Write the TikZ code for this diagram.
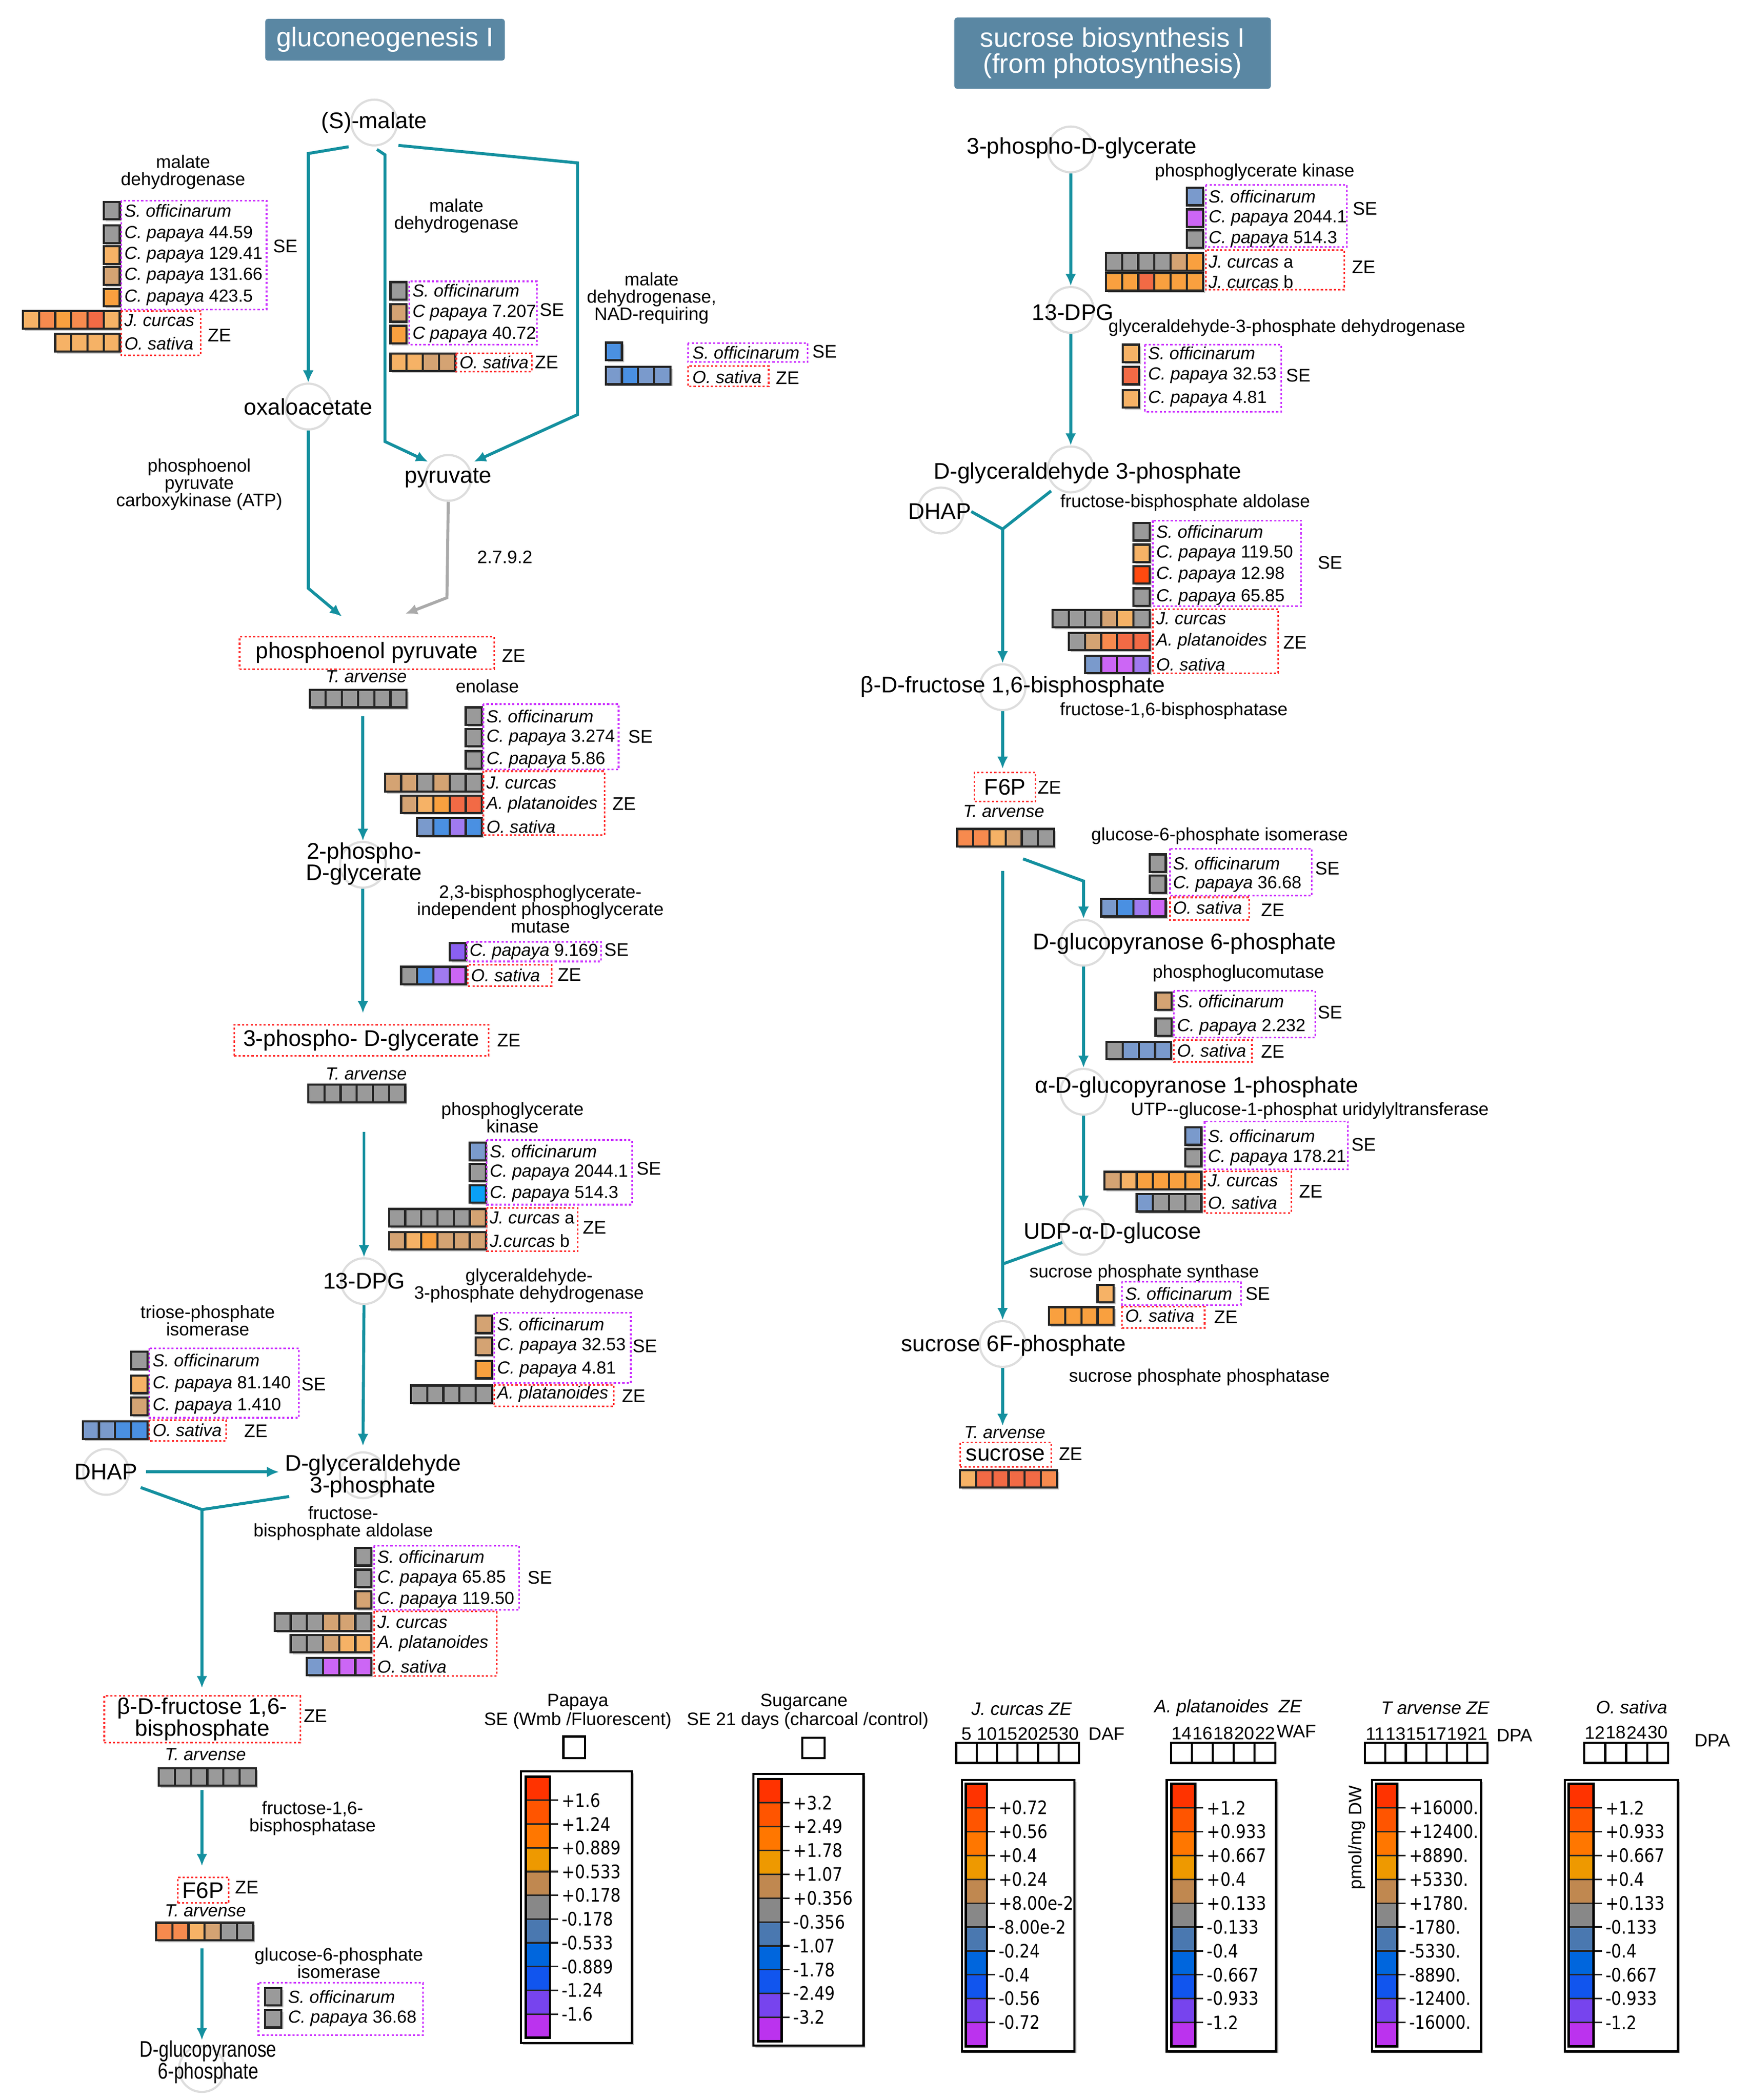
\documentclass[tikz,border=0pt]{standalone}
\usepackage{fontspec}
\usepackage{graphicx}
\setmainfont{Liberation Sans}
\newfontfamily\legfont{DejaVu Sans}
\usetikzlibrary{arrows.meta}
\definecolor{tealc}{HTML}{14909F}
\definecolor{titbg}{HTML}{5A87A3}
\definecolor{cgrey}{HTML}{9A9A9A}
\definecolor{ctan}{HTML}{D4A373}
\definecolor{clor}{HTML}{F6B266}
\definecolor{cor}{HTML}{F9A03F}
\definecolor{cor2}{HTML}{F78A4E}
\definecolor{cred}{HTML}{F26A45}
\definecolor{cred2}{HTML}{FF4A10}
\definecolor{cstl}{HTML}{7A9ACC}
\definecolor{cblu}{HTML}{4A90E2}
\definecolor{ccy}{HTML}{0AA0F5}
\definecolor{cpur}{HTML}{A07AF0}
\definecolor{cvio}{HTML}{8A60F0}
\definecolor{cmag}{HTML}{CC66F5}
\definecolor{magb}{HTML}{CC33FF}
\definecolor{redb}{HTML}{FF3030}
\definecolor{circc}{HTML}{DDDDDD}
\definecolor{grayarr}{HTML}{AAAAAA}
\definecolor{lc1}{HTML}{FF3300}
\definecolor{lc2}{HTML}{FF5500}
\definecolor{lc3}{HTML}{FF7700}
\definecolor{lc4}{HTML}{EE9900}
\definecolor{lc5}{HTML}{C08850}
\definecolor{lc6}{HTML}{888888}
\definecolor{lc7}{HTML}{4A78B0}
\definecolor{lc8}{HTML}{0066DD}
\definecolor{lc9}{HTML}{1155EE}
\definecolor{lc10}{HTML}{7744EE}
\definecolor{lc11}{HTML}{BB33EE}
\newcounter{nc}
\tikzset{
  met/.style={font=\fontsize{8.4}{8}\selectfont, align=center, inner sep=0pt},
  mcirc/.style={circle, draw=circc, line width=0.8pt, minimum size=17pt, inner sep=0pt},
  enz/.style={font=\fontsize{6.7}{6.4}\selectfont, align=center, inner sep=0pt},
  spc/.style={font=\fontsize{6.5}{7}\selectfont, anchor=west, inner sep=0pt},
  itc/.style={font=\fontsize{6.5}{7}\selectfont\itshape, inner sep=0pt},
  tag/.style={font=\fontsize{6.8}{7}\selectfont, inner sep=0pt},
  sqb/.style={draw=black!85, line width=0.8pt},
  sqsh/.style={fill=black!22},
  mbxs/.style={draw=magb, line width=0.6pt, dash pattern=on 0.8pt off 0.8pt},
  rbxs/.style={draw=redb, line width=0.6pt, dash pattern=on 0.8pt off 0.8pt},
  arr/.style={draw=tealc, line width=1.1pt, -{Latex[length=4.5pt,width=4pt]}},
  lnk/.style={draw=tealc, line width=1.1pt},
  garr/.style={draw=grayarr, line width=1.1pt, -{Latex[length=4.5pt,width=4pt]}},
  ttl/.style={fill=titbg, text=white, font=\fontsize{10}{9.7}\selectfont, align=center, inner sep=0pt, rounded corners=1pt},
  legt/.style={font=\fontsize{6.7}{7}\selectfont, inner sep=0pt},
  legn/.style={font=\legfont\fontsize{6.9}{7}\selectfont, inner sep=0pt, anchor=west},
  lbox/.style={draw=black, line width=0.8pt},
}
\newcommand{\sqs}[3]{%
  \foreach \cc [count=\ii from 0] in {#3}{\fill[sqsh] ({#1+\ii*12+1.5},{#2-5}) rectangle ++(12,13);}%
  \foreach \cc [count=\ii from 0] in {#3}{\draw[sqb,fill=\cc] ({#1+\ii*12},{#2-6.5}) rectangle ++(12,13);}}
\newcommand{\spt}[3]{\stepcounter{nc}\node[spc] (n\arabic{nc}) at (#1,#2) {#3};}
\newcommand{\tg}[3]{\stepcounter{nc}\node[tag] (n\arabic{nc}) at (#1,#2) {#3};}
\newcommand{\itx}[3]{\stepcounter{nc}\node[itc] (n\arabic{nc}) at (#1,#2) {#3};}
\newcommand{\mbx}[4]{\draw[mbxs] (#1,#2) rectangle (#3,#4);}
\newcommand{\rbx}[4]{\draw[rbxs] (#1,#2) rectangle (#3,#4);}
\newcommand{\legbar}[5]{%
  \pgfmathsetmacro{\cellh}{(#4-#2)/11}%
  \foreach \k in {1,...,11}{\fill[lc\k] (#1,{#2+(\k-1)*\cellh}) rectangle (#3,{#2+\k*\cellh});}%
  \foreach \lab [count=\k] in {#5}{%
    \draw[line width=0.6pt, black!85] (#1,{#2+\k*\cellh}) -- ({#3+6},{#2+\k*\cellh});%
    \stepcounter{nc}\node[legn] (n\arabic{nc}) at ({#3+8.5},{#2+\k*\cellh}) {\scalebox{0.86}[1]{\lab}};}%
  \draw[line width=0.9pt] (#1,#2) rectangle (#3,#4);%
}
\newcommand{\lgbox}[4]{\fill[black!25] ({#1+1.5},{#2+1.5}) rectangle ({#3+1.5},{#4+1.5}); \draw[lbox, fill=white] (#1,#2) rectangle (#3,#4);}
\newcommand{\lsq}[4]{\foreach \k in {1,...,#4}{\draw[line width=0.8pt] ({#1+(\k-1)*#3},#2) rectangle ++(#3,15);}}
\newcommand{\lnum}[4]{\foreach \v [count=\k from 0] in {#4}{\stepcounter{nc}\node[legt] (n\arabic{nc}) at ({#1+(\k+0.5)*#3},#2) {\v};}}

\begin{document}
\begin{tikzpicture}[x=0.5pt,y=-0.5pt]
\fill[white] (0,0) rectangle (1300,1560);
\useasboundingbox (0,0) rectangle (1300,1560);

% titles
\node[ttl, minimum width=89pt, minimum height=15.5pt] (t1) at (286,29.5) {gluconeogenesis I};
\node[ttl, minimum width=117.5pt, minimum height=26.5pt] (t2) at (826.5,39.5) {sucrose biosynthesis I\\(from photosynthesis)};

%%%%%%%%%%%%%%%% LEFT
\node[mcirc] (malC) at (278,91) {};
\node[met] (mal) at (278,91) {(S)-malate};
\node[mcirc] (oxaC) at (229,302) {};
\node[met] (oxa) at (229,302) {oxaloacetate};
\node[mcirc] (pyrC) at (333,355) {};
\node[met] (pyr) at (333,355) {pyruvate};

\coordinate (m1) at (259,109);
\coordinate (m2) at (280,111);
\coordinate (m3) at (296,108);
\coordinate (p1) at (318,343);
\coordinate (p2) at (352,343);
\draw[arr] (m1) -- (229,114) -- (oxaC.north);
\draw[arr] (m2) -- (286,115) -- (286,328) -- (p1);
\draw[arr] (m3) -- (429,121) -- (429,308) -- (p2);

% malate DH left
\node[enz] (e1) at (136,128) {malate\\dehydrogenase};
\sqs{77}{156.5}{cgrey}
\sqs{77}{174}{cgrey}
\sqs{77}{189.5}{clor}
\sqs{77}{205}{ctan}
\sqs{77}{221}{cor}
\mbx{90}{149}{198}{230}
\spt{92}{156.5}{\textit{S. officinarum}}
\spt{92}{174}{\textit{C. papaya} 44.59}
\spt{92}{189.5}{\textit{C. papaya} 129.41}
\spt{92}{205}{\textit{C. papaya} 131.66}
\spt{92}{221}{\textit{C. papaya} 423.5}
\tg{212}{183}{SE}
\sqs{17}{237.5}{clor,cor2,cor,cor2,cred,clor}
\sqs{41}{254.5}{clor,clor,clor,clor}
\rbx{90}{231}{149}{264}
\spt{92}{238}{\textit{J. curcas}}
\spt{92}{255}{\textit{O. sativa}}
\tg{163}{249}{ZE}

% malate DH middle
\node[enz] (e2) at (339,160.5) {malate\\dehydrogenase};
\sqs{290}{216}{cgrey}
\sqs{290}{232.5}{ctan}
\sqs{290}{248.5}{cor}
\mbx{304}{209}{399}{256}
\spt{306}{216}{\textit{S. officinarum}}
\spt{306}{232.5}{\textit{C papaya} 7.207}
\spt{306}{248.5}{\textit{C papaya} 40.72}
\tg{410}{230}{SE}
\sqs{290}{269}{clor,clor,ctan,ctan}
\rbx{339}{262.5}{395}{276}
\spt{341}{269}{\textit{O. sativa}}
\tg{406}{269}{ZE}

% malate DH NAD
\node[enz] (e3) at (484,221.5) {malate\\dehydrogenase,\\NAD-requiring};
\sqs{450}{261}{cblu}
\sqs{450}{279}{cstl,cblu,cstl,cstl}
\mbx{511}{255}{600}{269}
\spt{514}{262}{\textit{S. officinarum}}
\tg{612.5}{261}{SE}
\rbx{511}{272}{571}{287}
\spt{514}{280}{\textit{O. sativa}}
\tg{585}{281}{ZE}

\node[enz] (e4) at (148,360) {phosphoenol\\pyruvate\\carboxykinase (ATP)};
\node[enz] (ec) at (375,414) {2.7.9.2};

% PEP
\node[met, rbxs, minimum width=94.5pt, minimum height=12pt] (pep) at (272.5,485) {phosphoenol pyruvate};
\coordinate (pa) at (254,458);
\coordinate (pb) at (301,456);
\draw[arr] (oxaC.south) -- (229,437) -- (pa);
\draw[garr] (pyrC.south) -- (332,444) -- (pb);
\tg{381.5}{487}{ZE}
\itx{272}{502.5}{T. arvense}
\sqs{230}{519}{cgrey,cgrey,cgrey,cgrey,cgrey,cgrey}

% enolase
\node[enz] (e5) at (362,509.6) {enolase};
\sqs{346}{532}{cgrey}
\sqs{346}{548}{cgrey}
\sqs{346}{564.5}{cgrey}
\mbx{359}{523}{459.5}{571.7}
\spt{361}{532}{\textit{S. officinarum}}
\spt{361}{548}{\textit{C. papaya} 3.274}
\spt{361}{564.5}{\textit{C. papaya} 5.86}
\tg{475.7}{547.3}{SE}
\sqs{286}{581.4}{ctan,ctan,cgrey,ctan,cgrey,cgrey}
\sqs{298}{597.5}{ctan,clor,cor,cred,cred}
\sqs{310}{614.3}{cstl,cblu,cpur,cblu}
\rbx{359}{572.9}{449}{620.4}
\spt{361}{581.4}{\textit{J. curcas}}
\spt{361}{597.5}{\textit{A. platanoides}}
\spt{361}{614.3}{\textit{O. sativa}}
\tg{463.6}{597.3}{ZE}

% 2PG
\node[mcirc] (pg2C) at (269.6,642.4) {};
\node[met] (pg2) at (270.4,641.8) {2-phospho-\\D-glycerate};
\coordinate (a1) at (269.6,532);
\draw[arr] (a1) -- (pg2C.north);

\node[enz] (e6) at (401.4,675.2) {2,3-bisphosphoglycerate-\\independent phosphoglycerate\\mutase};
\sqs{334}{707}{cvio}
\mbx{346.7}{699.6}{446.6}{714.2}
\spt{348.5}{707}{\textit{C. papaya} 9.169}
\tg{458}{705.7}{SE}
\sqs{298}{724.7}{cgrey,cblu,cpur,cmag}
\rbx{347.5}{716.7}{409.7}{732.5}
\spt{349.5}{724.7}{\textit{O. sativa}}
\tg{423}{724.2}{ZE}

% 3PG
\node[met, rbxs, minimum width=94.5pt, minimum height=11.5pt] (pg3) at (268.5,772.7) {3-phospho- D-glycerate};
\draw[arr, shorten >=4pt] (pg2C.south) -- (pg2C.south |- pg3.north);
\tg{378}{772.7}{ZE}
\itx{272}{797.5}{T. arvense}
\sqs{229}{812.3}{cgrey,cgrey,cgrey,cgrey,cgrey,cgrey}

\node[enz] (e7) at (380.7,830.3) {phosphoglycerate\\kinase};
\sqs{349}{855.4}{cstl}
\sqs{349}{871}{cgrey}
\sqs{349}{887}{ccy}
\mbx{361.6}{846.9}{469.4}{894.9}
\spt{363.5}{855.4}{\textit{S. officinarum}}
\spt{363.5}{871}{\textit{C. papaya} 2044.1}
\spt{363.5}{887}{\textit{C. papaya} 514.3}
\tg{482}{868}{SE}
\sqs{289}{904.6}{cgrey,cgrey,cgrey,cgrey,cgrey,ctan}
\sqs{289}{921.7}{ctan,clor,cor,ctan,ctan,ctan}
\rbx{361.6}{897.3}{429.2}{929.5}
\spt{363.5}{904.6}{\textit{J. curcas} a}
\spt{363.5}{921.7}{\textit{J.curcas} b}
\tg{441.6}{911.9}{ZE}

% 13-DPG
\node[mcirc] (dpgC) at (270.4,951.7) {};
\node[met] (dpg) at (270.4,951.7) {13-DPG};
\coordinate (a3s) at (270.4,840.8);
\draw[arr] (a3s) -- (dpgC.north);

\node[enz] (e8) at (393,955) {glyceraldehyde-\\3-phosphate dehydrogenase};
\sqs{353.3}{983.8}{ctan}
\sqs{353.3}{1000.1}{ctan}
\sqs{353.3}{1017.4}{cor}
\mbx{367}{975.3}{468.6}{1027.2}
\spt{369}{983.8}{\textit{S. officinarum}}
\spt{369}{1000.1}{\textit{C. papaya} 32.53}
\spt{369}{1017.4}{\textit{C. papaya} 4.81}
\tg{479}{1000}{SE}
\sqs{305.3}{1035.7}{cgrey,cgrey,cgrey,cgrey,cgrey}
\rbx{367}{1028.9}{456}{1044.7}
\spt{369}{1035.7}{\textit{A. platanoides}}
\tg{470.7}{1036.9}{ZE}

% TPI
\node[enz] (e9) at (154.3,981) {triose-phosphate\\isomerase};
\sqs{97.5}{1010.6}{cgrey}
\sqs{97.5}{1028.4}{clor}
\sqs{97.5}{1044.7}{ctan}
\mbx{111}{1001.6}{222}{1053.2}
\spt{113}{1010.6}{\textit{S. officinarum}}
\spt{113}{1028.4}{\textit{C. papaya} 81.140}
\spt{113}{1044.7}{\textit{C. papaya} 1.410}
\tg{233}{1028.4}{SE}
\sqs{61.5}{1062.5}{cstl,cstl,cblu,cblu}
\rbx{111}{1054.9}{168}{1070.3}
\spt{113}{1062.5}{\textit{O. sativa}}
\tg{190}{1063}{ZE}

% DHAP / GA3P
\node[mcirc] (dhapC) at (78.8,1093.4) {};
\node[met] (dhap) at (78.8,1093.4) {DHAP};
\node[mcirc] (ga3pC) at (269.6,1095.9) {};
\node[met] (ga3p) at (277,1096.5) {D-glyceraldehyde\\3-phosphate};
\draw[arr, shorten >=2pt] (dpgC.south) -- (ga3pC.north);
\draw[arr, shorten <=3pt, shorten >=2pt] (dhap.east) -- (ga3p.west |- dhap.east);
\coordinate (yj1) at (150,1121.4);
\coordinate (y1) at (104.5,1105);
\coordinate (y2) at (214.8,1111.7);
\draw[lnk] (y1) -- (yj1) -- (y2);

% aldolase left
\node[enz] (e10) at (255,1131.5) {fructose-\\bisphosphate aldolase};
\sqs{264}{1156.5}{cgrey}
\sqs{264}{1172.5}{cgrey}
\sqs{264}{1188.5}{ctan}
\mbx{277.8}{1148.2}{385.7}{1196}
\spt{280}{1156.5}{\textit{S. officinarum}}
\spt{280}{1172.5}{\textit{C. papaya} 65.85}
\spt{280}{1188.5}{\textit{C. papaya} 119.50}
\tg{401}{1172}{SE}
\sqs{204}{1205}{cgrey,cgrey,cgrey,ctan,ctan,cgrey}
\sqs{216}{1221}{cgrey,cgrey,ctan,clor,clor}
\sqs{228}{1238}{cstl,cmag,cmag,cmag}
\rbx{277.8}{1197}{369}{1245}
\spt{280}{1205}{\textit{J. curcas}}
\spt{280}{1221}{\textit{A. platanoides}}
\spt{280}{1238}{\textit{O. sativa}}

% FBP left
\node[met, rbxs, minimum width=72.75pt, minimum height=17.5pt] (fbpL) at (150.25,1277.1) {β-D-fructose 1,6-\\bisphosphate};
\draw[arr, shorten >=2.5pt] (yj1) -- (yj1 |- fbpL.north);
\tg{234.3}{1274.6}{ZE}
\itx{152.6}{1303.4}{T. arvense}
\sqs{118}{1320}{cgrey,cgrey,cgrey,cgrey,cgrey,cgrey}
\node[enz] (e11) at (232.2,1350.7) {fructose-1,6-\\bisphosphatase};
\node[met, rbxs, minimum width=19pt, minimum height=9.4pt] (f6pL) at (151,1404.2) {F6P};
\coordinate (a4s) at (150,1330);
\draw[arr, shorten >=4pt] (a4s) -- (a4s |- f6pL.north);
\tg{183.3}{1402}{ZE}
\itx{152.6}{1419.4}{T. arvense}
\sqs{116}{1434.8}{cor2,cor2,clor,ctan,cgrey,cgrey}
\node[enz] (e12) at (251.7,1458.3) {glucose-6-phosphate\\isomerase};
\mbx{192}{1473}{314.3}{1511.8}
\sqs{197}{1483.3}{cgrey}
\sqs{197}{1499.6}{cgrey}
\spt{213.6}{1483.3}{\textit{S. officinarum}}
\spt{213.6}{1499.6}{\textit{C. papaya} 36.68}
\node[mcirc] (g6pLC) at (150,1537) {};
\node[met] (g6pL) at (154.7,1531.8) {\scalebox{0.8}[1]{D-glucopyranose}\\\scalebox{0.8}[1]{6-phosphate}};
\coordinate (a5s) at (150,1447.5);
\draw[arr] (a5s) -- (a5s |- g6pL.north);

%%%%%%%%%%%%%%%% RIGHT
\node[mcirc] (r3pgC) at (795.4,111) {};
\node[met] (r3pg) at (803.6,110) {3-phospho-D-glycerate};
\node[enz] (r1) at (932,128) {phosphoglycerate kinase};
\sqs{881.6}{146}{cstl}
\sqs{881.6}{162}{cmag}
\sqs{881.6}{177.5}{cgrey}
\mbx{895.7}{137.4}{1000.6}{183.5}
\spt{897.5}{146}{\textit{S. officinarum}}
\spt{897.5}{162}{\textit{C. papaya} 2044.1}
\spt{897.5}{177.5}{\textit{C. papaya} 514.3}
\tg{1014}{155}{SE}
\sqs{821.6}{194.4}{cgrey,cgrey,cgrey,cgrey,ctan,cor}
\sqs{821.6}{209.5}{cor,cor,cred,cor,cor,cor}
\rbx{895.7}{185.6}{998.5}{215.3}
\spt{897.5}{194.4}{\textit{J. curcas} a}
\spt{897.5}{209.5}{\textit{J. curcas} b}
\tg{1013}{198.4}{ZE}

\node[mcirc] (rdpgC) at (795.4,230.2) {};
\node[met] (rdpg) at (797,232) {13-DPG};
\draw[arr] (r3pgC.south) -- (rdpgC.north);
\node[enz] (r2) at (956,243.5) {glyceraldehyde-3-phosphate dehydrogenase};
\sqs{834}{262.5}{clor}
\sqs{834}{279}{cred}
\sqs{834}{296.2}{clor}
\mbx{850.5}{256}{951.7}{305.8}
\spt{852.5}{262.5}{\textit{S. officinarum}}
\spt{852.5}{279}{\textit{C. papaya} 32.53}
\spt{852.5}{296.2}{\textit{C. papaya} 4.81}
\tg{964.5}{279}{SE}

\node[mcirc] (rga3pC) at (795.4,348.7) {};
\node[met] (rga3p) at (808,351.4) {D-glyceraldehyde 3-phosphate};
\draw[arr] (rdpgC.south) -- (rga3pC.north);
\node[mcirc] (rdhapC) at (699,379.2) {};
\node[met] (rdhap) at (698,380) {DHAP};
\coordinate (ryj) at (744.8,393);
\coordinate (ry1) at (721.5,380);
\coordinate (ry2) at (780.8,364.7);
\draw[lnk] (ry1) -- (ryj) -- (ry2);

\node[enz] (r3) at (880.4,373.4) {fructose-bisphosphate aldolase};
\sqs{842}{395}{cgrey}
\sqs{842}{411}{clor}
\sqs{842}{427}{cred2}
\sqs{842}{443.5}{cgrey}
\mbx{856.3}{386.7}{966.6}{450.3}
\spt{858.5}{395}{\textit{S. officinarum}}
\spt{858.5}{411}{\textit{C. papaya} 119.50}
\spt{858.5}{427}{\textit{C. papaya} 12.98}
\spt{858.5}{443.5}{\textit{C. papaya} 65.85}
\tg{988}{418}{SE}
\sqs{782}{459.5}{cgrey,cgrey,cgrey,ctan,clor,cgrey}
\sqs{794}{476.5}{cgrey,ctan,cor2,cred,cred}
\sqs{806}{493.5}{cstl,cmag,cmag,cpur}
\rbx{856.3}{452.4}{949.6}{500}
\spt{858.5}{459.5}{\textit{J. curcas}}
\spt{858.5}{476.5}{\textit{A. platanoides}}
\spt{858.5}{493.5}{\textit{O. sativa}}
\tg{962}{477.5}{ZE}

\node[mcirc] (rfbpC) at (744.8,510.5) {};
\node[met] (rfbp) at (752.5,510) {β-D-fructose 1,6-bisphosphate};
\draw[arr] (ryj) -- (rfbpC.north);
\node[enz] (r4) at (872,528) {fructose-1,6-bisphosphatase};
\node[met, rbxs, minimum width=22.6pt, minimum height=10.9pt] (rf6p) at (746.6,584.6) {F6P};
\draw[arr, shorten >=1pt] (rfbpC.south) -- (rfbpC.south |- rf6p.north);
\tg{779.6}{585}{ZE}
\itx{745.6}{602.5}{T. arvense}
\sqs{711}{622.3}{cor2,cor2,clor,ctan,cgrey,cgrey}
\node[enz] (r5) at (906,621) {glucose-6-phosphate isomerase};
\sqs{854}{641.2}{cgrey}
\sqs{854}{656.8}{cgrey}
\mbx{869.2}{630.4}{974.5}{665.3}
\spt{871}{641.2}{\textit{S. officinarum}}
\spt{871}{656.8}{\textit{C. papaya} 36.68}
\tg{986}{645}{SE}
\sqs{818}{674.3}{cstl,cblu,cpur,cmag}
\rbx{869.2}{666.6}{928}{683.4}
\spt{871}{674.3}{\textit{O. sativa}}
\tg{945.5}{676}{ZE}

\node[mcirc] (rg6pC) at (804.9,700.3) {};
\node[met] (rg6p) at (880,701) {D-glucopyranose 6-phosphate};
\coordinate (rb1) at (760,638);
\draw[arr] (rb1) -- (804.9,654.5) -- (rg6pC.north);

\node[enz] (r6) at (920,723) {phosphoglucomutase};
\sqs{858.4}{743.7}{ctan}
\sqs{858.4}{763}{cgrey}
\mbx{872}{736}{977}{770.7}
\spt{874}{743.7}{\textit{S. officinarum}}
\spt{874}{763}{\textit{C. papaya} 2.232}
\tg{988}{752}{SE}
\sqs{822}{780.4}{cgrey,cstl,cstl,cstl}
\rbx{872}{772.7}{930}{789}
\spt{874}{780.4}{\textit{O. sativa}}
\tg{945.5}{781}{ZE}

\node[mcirc] (ragpC) at (804.9,811) {};
\node[met] (ragp) at (889,807.5) {α-D-glucopyranose 1-phosphate};
\draw[arr] (rg6pC.south) -- (ragpC.north);
\node[enz] (r7) at (973,825) {UTP-{}-glucose-1-phosphat uridylyltransferase};
\sqs{880.4}{844}{cstl}
\sqs{880.4}{860}{cgrey}
\mbx{894.9}{833}{1001.4}{868.5}
\spt{897}{844}{\textit{S. officinarum}}
\spt{897}{860}{\textit{C. papaya} 178.21}
\tg{1013}{850.5}{SE}
\sqs{820.4}{877}{ctan,clor,cor,cor,cor,cor}
\sqs{844.4}{893.5}{cstl,cgrey,cgrey,cgrey}
\rbx{894.9}{870}{959.2}{901}
\spt{897}{877}{\textit{J. curcas}}
\spt{897}{893.5}{\textit{O. sativa}}
\tg{973.7}{885}{ZE}

\node[mcirc] (rudpC) at (804.9,915) {};
\node[met] (rudp) at (826.5,916) {UDP-α-D-glucose};
\draw[arr] (ragpC.south) -- (rudpC.north);
\coordinate (ru1) at (789.1,923);
\coordinate (ru2) at (745.6,938.7);
\draw[lnk] (ru1) -- (ru2);
\node[enz] (r8) at (850,945.5) {sucrose phosphate synthase};
\sqs{815.3}{961}{clor}
\mbx{833.5}{952}{921.8}{969.5}
\spt{835.5}{961}{\textit{S. officinarum}}
\tg{934.3}{961}{SE}
\sqs{779.3}{977.5}{cor,cor,cor,cor}
\rbx{833.5}{970.5}{894.9}{986.5}
\spt{835.5}{977.5}{\textit{O. sativa}}
\tg{910.6}{978.5}{ZE}

\node[mcirc] (rs6pC) at (744.8,998.4) {};
\node[met] (rs6p) at (753,999.5) {sucrose 6F-phosphate};
\coordinate (rl1) at (744.8,647);
\draw[arr] (rl1) -- (rs6pC.north);
\node[enz] (r9) at (891,1023) {sucrose phosphate phosphatase};
\node[itc] (rta3) at (746.4,1064.2) {T. arvense};
\draw[arr] (rs6pC.south) -- (rs6pC.south |- rta3.north);
\node[met, rbxs, minimum width=33.8pt, minimum height=9.15pt] (rsuc) at (747,1080.6) {sucrose};
\tg{795.3}{1080}{ZE}
\sqs{713.2}{1098.5}{clor,cred,cred,cred,cred,cor2}

%%%%%%%%%%%%%%%% LEGENDS
% Papaya
\node[legt] (lg1a) at (429.2,1264.5) {Papaya};
\node[legt] (lg1b) at (429.2,1278) {SE (Wmb /Fluorescent)};
\draw[line width=0.8pt] (418.5,1290) rectangle (434.5,1306);
\lgbox{386.9}{1315.9}{469.4}{1517.6}
\legbar{390.6}{1319.7}{408.5}{1513.8}{+1.6,+1.24,+0.889,+0.533,+0.178,-0.178,-0.533,-0.889,-1.24,-1.6}
% Sugarcane
\node[legt] (lg2a) at (597.2,1264.5) {Sugarcane};
\node[legt] (lg2b) at (600,1278) {SE 21 days (charcoal /control)};
\draw[line width=0.8pt] (596,1291) rectangle (612.5,1306);
\lgbox{559.8}{1317.7}{641.5}{1519.4}
\legbar{563.2}{1321.5}{580.6}{1516.3}{+3.2,+2.49,+1.78,+1.07,+0.356,-0.356,-1.07,-1.78,-2.49,-3.2}
% J. curcas
\node[legt, font=\fontsize{6.7}{7}\selectfont\itshape] (lg3a) at (758.9,1269.6) {J. curcas ZE};
\lnum{710.3}{1288}{15.2}{5,10,15,20,25,30}
\node[legt] (lg3b) at (822,1288) {DAF};
\lsq{710.3}{1294.6}{15.2}{6}
\lgbox{714.5}{1322.2}{798.2}{1523.9}
\legbar{717.4}{1325.2}{733.1}{1520.1}{+0.72,+0.56,+0.4,+0.24,+8.00e-2,-8.00e-2,-0.24,-0.4,-0.56,-0.72}
% A. platanoides
\node[legt, font=\fontsize{6.7}{7}\selectfont\itshape] (lg4a) at (912.3,1268.8) {A. platanoides\ \ ZE};
\lnum{870}{1287.5}{15.5}{14,16,18,20,22}
\node[legt] (lg4b) at (963,1286) {WAF};
\lsq{870}{1294.6}{15.5}{5}
\lgbox{866.7}{1322.2}{948}{1523.9}
\legbar{870}{1325.2}{887.8}{1520.1}{+1.2,+0.933,+0.667,+0.4,+0.133,-0.133,-0.4,-0.667,-0.933,-1.2}
% T arvense
\node[legt, font=\fontsize{6.7}{7}\selectfont\itshape] (lg5a) at (1066.2,1268.8) {T arvense ZE};
\lnum{1013.9}{1288}{15.2}{11,13,15,17,19,21}
\node[legt] (lg5b) at (1125,1289) {DPA};
\lsq{1013.9}{1294.6}{15.2}{6}
\node[legt, rotate=90] (lg5c) at (1008,1365) {pmol/mg DW};
\lgbox{1019.3}{1322.2}{1100.2}{1523.9}
\legbar{1022.2}{1325.2}{1038}{1520.1}{+16000.,+12400.,+8890.,+5330.,+1780.,-1780.,-5330.,-8890.,-12400.,-16000.}
% O. sativa
\node[legt, font=\fontsize{6.7}{7}\selectfont\itshape] (lg6a) at (1212.1,1268) {O. sativa};
\lnum{1176.9}{1287}{15.55}{12,18,24,30}
\node[legt] (lg6b) at (1272,1293) {DPA};
\lsq{1176.9}{1294.6}{15.55}{4}
\lgbox{1162.4}{1322.2}{1246.5}{1523.9}
\legbar{1165.3}{1325.2}{1183.9}{1520.1}{+1.2,+0.933,+0.667,+0.4,+0.133,-0.133,-0.4,-0.667,-0.933,-1.2}
\end{tikzpicture}
\end{document}
